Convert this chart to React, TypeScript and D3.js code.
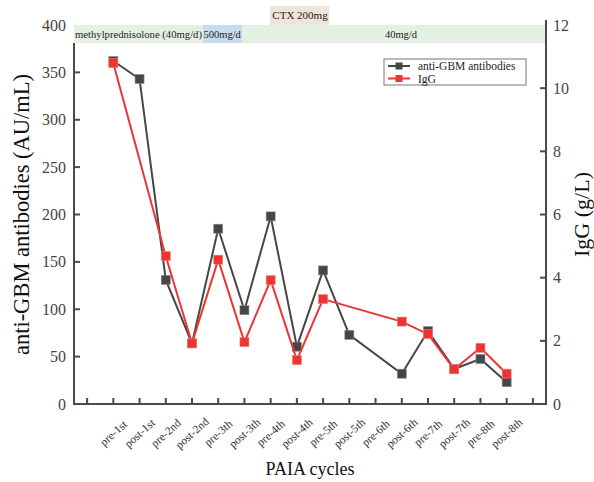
import React from 'react';
import * as d3 from 'd3';

// cycles, with empty slots at both ends of the axis
const cycles = ['', 'pre-1st', 'post-1st', 'pre-2nd', 'post-2nd', 'pre-3th', 'post-3th', 'pre-4th', 'post-4th',
  'pre-5th', 'post-5th', 'pre-6th', 'post-6th', 'pre-7th', 'post-7th', 'pre-8th', 'post-8th', ' '];

const antiGBM = [362, 343, 131, 64, 185, 99, 198, 60.5, 141, 73, null, 32, 77, 37, 47.5, 23];
const igg = [10.79, null, 4.68, 1.92, 4.57, 1.96, 3.92, 1.39, 3.32, null, null, 2.61, 2.21, 1.1, 1.78, 0.96];

const leftTicks = [0, 50, 100, 150, 200, 250, 300, 350, 400];
const rightTicks = [0, 2, 4, 6, 8, 10, 12];

const FONT = '"Liberation Serif", "DejaVu Serif", serif';

const App = () => {
  const left = 74, right = 546, top = 25, bottom = 404;

  const x = d3.scalePoint().domain(cycles).range([left, right]).padding(0.5);
  const yL = d3.scaleLinear().domain([0, 400]).range([bottom, top]);
  const yR = d3.scaleLinear().domain([0, 12]).range([bottom, top]);

  const labels = cycles.slice(1, 17);
  const gbmPts = labels.map((c, i) => ({ c, v: antiGBM[i] })).filter(d => d.v != null);
  const iggPts = labels.map((c, i) => ({ c, v: igg[i] })).filter(d => d.v != null);

  const gbmLine = d3.line<any>().x(d => x(d.c)!).y(d => yL(d.v));
  const iggLine = d3.line<any>().x(d => x(d.c)!).y(d => yR(d.v));

  const black = '#464646';
  const red = '#ee3333';
  const axisColor = '#4a4a4a';

  return (
    <svg width={594} height={482} style={{ position: 'absolute', left: 0, top: 0, background: '#fff' }}>
      {/* treatment bands */}
      <rect x={left} y={top} width={right - left} height={18} fill="#e4f1e2" />
      <rect x={203} y={top} width={39} height={18} fill="#c9dcee" />
      <rect x={270} y={6} width={59} height={19} fill="#efe4da" />
      <g fontFamily={FONT} fontSize={10.5} fill="#222">
        <text x={75} y={38} textLength={127} lengthAdjust="spacingAndGlyphs">methylprednisolone (40mg/d)</text>
        <text x={203.5} y={38}>500mg/d</text>
        <text x={401} y={38} textAnchor="middle">40mg/d</text>
        <text x={300} y={19} textAnchor="middle" fontSize={11}>CTX 200mg</text>
      </g>

      {/* axes */}
      <g stroke={axisColor} strokeWidth={2} fill="none">
        <line x1={left} y1={43} x2={left} y2={bottom + 1} />
        <line x1={right} y1={top - 5} x2={right} y2={bottom + 1} />
        <line x1={left - 1} y1={bottom} x2={right + 1} y2={bottom} />
        {leftTicks.slice(0, -1).map(t => (
          <line key={'l' + t} x1={left} x2={left + 6} y1={yL(t)} y2={yL(t)} />
        ))}
        {rightTicks.slice(0, -1).map(t => (
          <line key={'r' + t} x1={right} x2={right - 6} y1={yR(t)} y2={yR(t)} />
        ))}
        {cycles.map(c => (
          <line key={'x' + c} x1={x(c)} x2={x(c)} y1={bottom} y2={bottom - 6} />
        ))}
      </g>
      <g fontFamily={FONT} fontSize={16} fill="#444">
        {leftTicks.map(t => (
          <text key={'lt' + t} x={66} y={yL(t)} dy="0.35em" textAnchor="end">{t}</text>
        ))}
        {rightTicks.map(t => (
          <text key={'rt' + t} x={553} y={yR(t)} dy="0.35em">{t}</text>
        ))}
      </g>
      <g fontFamily={FONT} fontSize={11.5} fill="#333">
        {labels.map(c => (
          <text key={'xl' + c} transform={`translate(${x(c)!},${bottom + 29}) rotate(-42)`} textAnchor="middle" dy="0.35em">{c}</text>
        ))}
      </g>
      <g fontFamily={FONT} fill="#111">
        <text fontSize={22.5} transform={`translate(29,${(top + bottom) / 2}) rotate(-90)`} textAnchor="middle">anti-GBM antibodies (AU/mL)</text>
        <text fontSize={22} transform={`translate(589,${(top + bottom) / 2}) rotate(-90)`} textAnchor="middle">IgG (g/L)</text>
        <text fontSize={18} x={310} y={475} textAnchor="middle">PAIA cycles</text>
      </g>

      {/* series */}
      <path d={gbmLine(gbmPts)!} fill="none" stroke={black} strokeWidth={2} />
      {gbmPts.map(d => (
        <rect key={'g' + d.c} x={x(d.c)! - 4.5} y={yL(d.v!) - 4.5} width={9} height={9} fill={black} stroke="#888" strokeWidth={0.6} />
      ))}
      <path d={iggLine(iggPts)!} fill="none" stroke={red} strokeWidth={2} />
      {iggPts.map(d => (
        <rect key={'i' + d.c} x={x(d.c)! - 4.5} y={yR(d.v!) - 4.5} width={9} height={9} fill={red} stroke="#f08080" strokeWidth={0.6} />
      ))}

      {/* legend */}
      <rect x={384} y={59} width={142} height={26} fill="#fff" stroke="#777" strokeWidth={1} />
      <g fontFamily={FONT} fontSize={11.5} fill="#222">
        <line x1={388} x2={410} y1={66} y2={66} stroke={black} strokeWidth={2} />
        <rect x={395.5} y={62.5} width={7} height={7} fill={black} />
        <text x={418} y={70}>anti-GBM antibodies</text>
        <line x1={388} x2={410} y1={78.5} y2={78.5} stroke={red} strokeWidth={2} />
        <rect x={395.5} y={75} width={7} height={7} fill={red} />
        <text x={418} y={82.5}>IgG</text>
      </g>
    </svg>
  );
};

export default App;
